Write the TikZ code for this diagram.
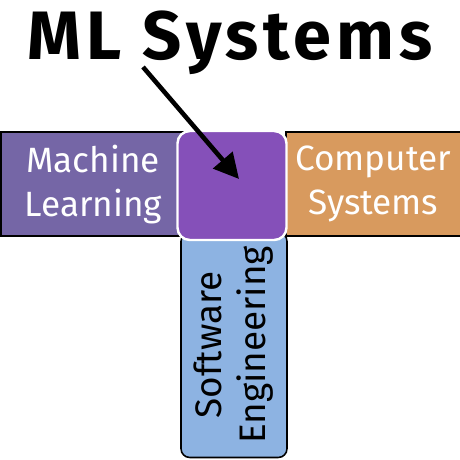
\documentclass[tikz,border=0pt]{standalone}
\usepackage{fontspec}
\setmainfont{Fira Sans}
\usepackage{xcolor}
\usetikzlibrary{arrows.meta,positioning}

\definecolor{mlcol}{HTML}{7566A6}
\definecolor{corecol}{HTML}{8550B9}
\definecolor{cscol}{HTML}{D89A5E}
\definecolor{secol}{HTML}{8DB3E2}

\begin{document}
\begin{tikzpicture}[
    bar/.style={draw=black, line width=0.9pt, align=center, inner sep=0pt,
      font=\fontsize{20}{25}\selectfont, text=white},
    core/.style={draw=white, line width=1.4pt, rounded corners=7pt, fill=corecol,
      minimum width=2.18cm, minimum height=2.18cm},
    arrow/.style={-{Triangle[length=5mm, width=5mm]}, line width=2.6pt}
  ]
    \useasboundingbox (0,0) rectangle (9.2,9.2);

    % horizontal bar
    \node[bar, fill=mlcol, minimum width=3.7cm, minimum height=2.08cm, anchor=south west]
      (ml) at (0,4.46) {Machine\\Learning};
    \node[bar, fill=cscol, minimum width=3.5cm, minimum height=2.08cm, anchor=south west]
      (cs) at (5.7,4.46) {Computer\\Systems};

    % vertical bar
    \node[bar, fill=secol, text=black, rounded corners=5pt, rotate=90,
      font=\fontsize{21}{25}\selectfont,
      minimum width=4.5cm, minimum height=2.12cm]
      (se) at (4.68,2.3) {Software\\Engineering};

    % overlap
    \node[core] (mlsys) at (4.64,5.49) {};

    % title
    \node[font=\fontsize{39}{44}\selectfont\bfseries\addfontfeatures{LetterSpace=7},
      anchor=base] (title) at (4.6,8.0) {ML Systems};
    \coordinate (start) at (2.86,7.86);
    \coordinate (tip) at (4.78,5.62);
    \draw[arrow] (start) -- (tip);
  \end{tikzpicture}
\end{document}
